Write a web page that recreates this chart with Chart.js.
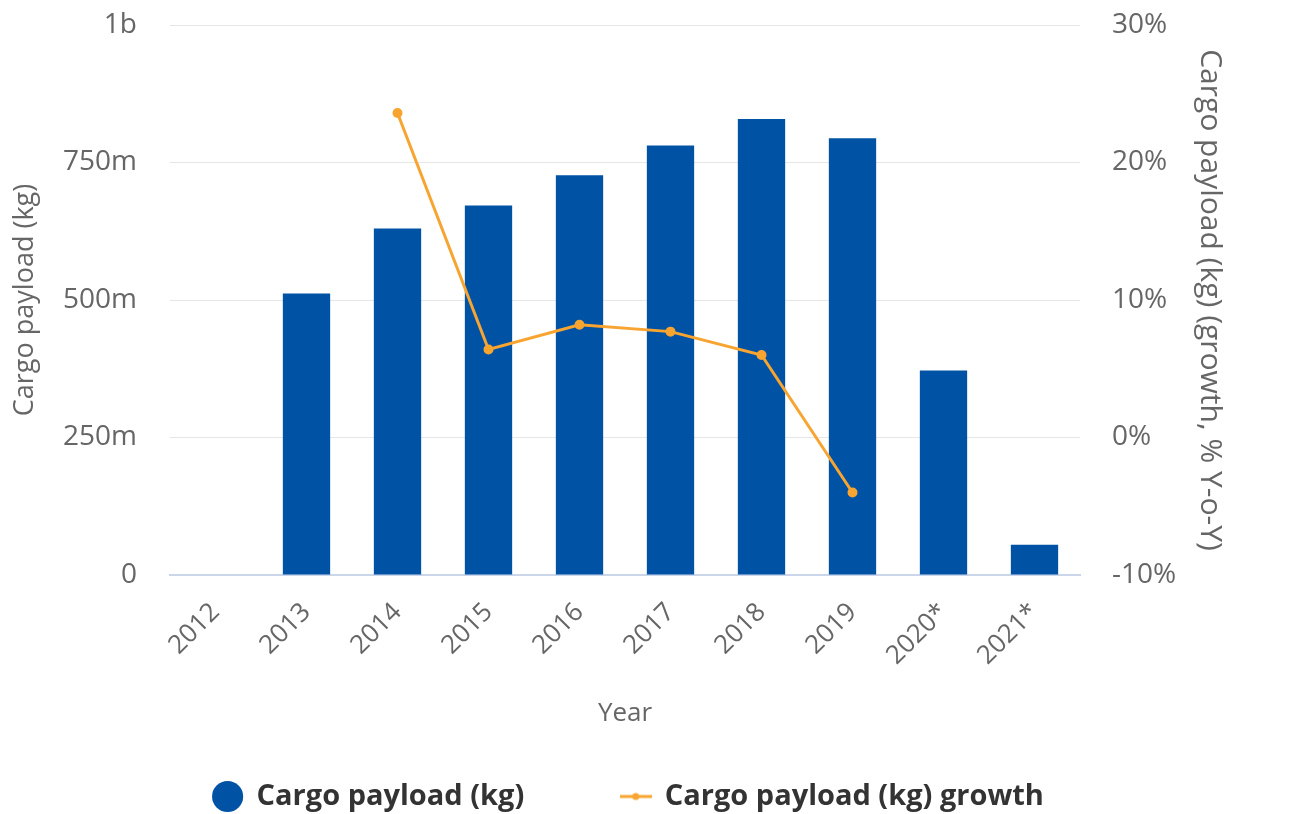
<!DOCTYPE html>
<html>
<head>
<meta charset="utf-8">
<script src="https://cdn.jsdelivr.net/npm/chart.js@4.4.1/dist/chart.umd.min.js"></script>
<style>
  html, body { margin: 0; padding: 0; background: #fff; }
  #wrap { width: 1292px; height: 814px; }
</style>
</head>
<body>
<div id="wrap"><canvas id="cargoChart" width="1292" height="814"></canvas></div>
<script>
// values
const years = ["2012", "2013", "2014", "2015", "2016", "2017", "2018", "2019", "2020*", "2021*"];
const payloadKg = [null, 512e6, 630e6, 672e6, 727e6, 781e6, 829e6, 794e6, 372e6, 55e6];
const growthPct = [null, null, 23.6, 6.4, 8.2, 7.7, 6.0, -4.0, null, null];
const leftTicks = [0, 250e6, 500e6, 750e6, 1e9];
const leftTickText = ["0", "250m", "500m", "750m", "1b"];

const barBlue = "#0052a5";
const lineOrange = "#f7a530";
const grey = "#666666";
const fontFam = "'Open Sans', 'Noto Sans', sans-serif";

// legend symbol for the line: short line with a dot
function lineSymbol(){
	let c = document.createElement("canvas");
	c.width = 32; c.height = 10;
	let g = c.getContext("2d");
	g.strokeStyle = lineOrange;
	g.lineWidth = 3;
	g.beginPath(); g.moveTo(0, 5); g.lineTo(32, 5); g.stroke();
	g.fillStyle = lineOrange;
	g.beginPath(); g.arc(16, 5, 3.5, 0, Math.PI * 2); g.fill();
	return c;
}
const lineIcon = lineSymbol();

new Chart(document.getElementById("cargoChart"), {
	type: "bar",
	data: {
		labels: years,
		datasets: [
			{
				type: "line",
				label: "Cargo payload (kg) growth",
				data: growthPct,
				yAxisID: "y1",
				borderColor: lineOrange,
				backgroundColor: lineOrange,
				borderWidth: 3,
				pointRadius: 3.5,
				pointHoverRadius: 3.5,
				tension: 0,
				order: 0
			},
			{
				label: "Cargo payload (kg)",
				data: payloadKg,
				yAxisID: "y",
				backgroundColor: barBlue,
				categoryPercentage: 1,
				barPercentage: 0.52,
				order: 1
			}
		]
	},
	options: {
		responsive: false,
		animation: false,
		layout: { padding: { top: 25, left: 5, right: 40, bottom: -7 } },
		plugins: {
			tooltip: { enabled: false },
			legend: {
				position: "bottom",
				reverse: true,
				labels: {
					color: "#333333",
					font: { family: fontFam, size: 29, weight: "bold" },
					usePointStyle: true,
					boxHeight: 22,
					padding: 97,
					generateLabels(chart){
						let items = Chart.defaults.plugins.legend.labels.generateLabels(chart);
						items.forEach(it => {
							if (it.datasetIndex === 0) {
								it.pointStyle = lineIcon;
							} else {
								it.pointStyle = "circle";
								it.fillStyle = barBlue;
								it.strokeStyle = barBlue;
							}
						});
						return items;
					}
				}
			}
		},
		scales: {
			x: {
				grid: { display: false, drawTicks: false },
				border: { color: "#ccd6eb", width: 2 },
				ticks: {
					color: grey,
					font: { family: fontFam, size: 26 },
					minRotation: 45,
					maxRotation: 45,
					padding: 22
				},
				title: {
					display: true,
					text: "Year",
					color: grey,
					font: { family: fontFam, size: 26 },
					padding: { top: 0, bottom: -44 }
				},
				afterFit(s){ s.height = 110; }
			},
			y: {
				position: "left",
				min: 0,
				max: 1e9,
				afterBuildTicks(s){ s.ticks = leftTicks.map(v => ({ value: v })); },
				// invisible tick marks give the label gap without padding the top
				grid: { color: "#e6e6e6", drawTicks: true, tickLength: 33, tickColor: "rgba(0,0,0,0)" },
				border: { display: false },
				ticks: {
					color: grey,
					font: { family: fontFam, size: 28 },
					padding: 0,
					callback(v){ return leftTickText[leftTicks.indexOf(v)]; }
				},
				title: {
					display: true,
					text: "Cargo payload (kg)",
					color: grey,
					font: { family: fontFam, size: 27 },
					padding: { top: 4, bottom: 0 }
				},
				afterFit(s){ s.width = 165; }
			},
			y1: {
				position: "right",
				min: -10,
				max: 30,
				grid: { drawOnChartArea: false, drawTicks: true, tickLength: 32, tickColor: "rgba(0,0,0,0)" },
				border: { display: false },
				ticks: {
					color: grey,
					font: { family: fontFam, size: 28 },
					stepSize: 10,
					padding: 0,
					callback(v){ return v + "%"; }
				},
				title: {
					display: true,
					text: "Cargo payload (kg) (growth, % Y-o-Y)",
					color: grey,
					font: { family: fontFam, size: 30 },
					padding: { top: 24, bottom: 0 }
				},
				afterFit(s){ s.width = 172; }
			}
		}
	}
});
</script>
</body>
</html>
